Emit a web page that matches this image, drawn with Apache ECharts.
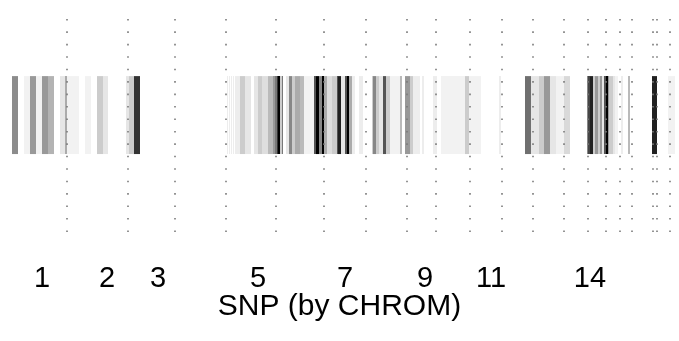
<!DOCTYPE html>
<html>
<head>
<meta charset="utf-8">
<script src="https://cdn.jsdelivr.net/npm/echarts@6/dist/echarts.min.js"></script>
<style>
  html, body { margin: 0; padding: 0; background: #fff; }
  #chart { width: 679px; height: 341px; }
</style>
</head>
<body>
<div id="chart"></div>
<script>
// SNP cells along the genome axis: [from, to, darkness 0..100]
var snpCells = [
  [12,18,45],[24,30,5],[30,36,40],[36,42,5],[42,48,40],[48,54,30],[60,65,10],[65,67,33],
  [67,79,5],[85,91,5],[97,103,20],[103,108,10],[126,129,10],[129,134,20],[134,140,80],
  [227,228,7],[229,230,7],[231,232,7],[233,234,7],[235,240,7],[240,245,20],[245,251,10],
  [254,258,10],[258,262,20],[262,268,13],[268,273,27],[273,275,40],[275,277,53],[277,278,80],
  [278,280,100],[280,282,20],[282,283,53],[286,289,10],[289,292,47],[292,295,20],[295,300,33],
  [300,304,27],[304,314,5],[314,316,67],[316,319,100],[319,322,47],[322,324,100],[324,327,33],
  [327,332,13],[332,337,20],[337,338,67],[338,341,87],[341,345,10],[345,347,67],[347,349,100],
  [349,352,33],[352,355,7],[359,363,7],[372,373,20],[373,376,47],[376,379,20],[379,383,10],
  [383,386,67],[386,390,20],[390,400,5],[400,402,27],[405,410,40],[410,413,20],[413,420,7],
  [422,424,7],[433,437,7],[441,465,5],[465,469,20],[469,481,5],[499,501,7],
  [525,531,56],[531,539,10],[539,544,20],[544,550,40],[550,556,10],[556,564,5],[564,570,15],
  [587,588,47],[588,590,73],[590,593,87],[593,595,20],[595,598,40],[598,600,20],[600,602,40],
  [602,604,10],[604,606,67],[606,608,100],[608,609,40],[609,613,20],[613,615,10],[615,618,5],
  [621,623,7],[628,630,27],[652,657,87],[668,675,5]
];

// chromosome boundaries
var chromBreaks = [67,128,175,226,275.5,324,365.5,407,436,469.5,501.5,532.5,563.5,587.5,606,620,631.5,652.5,656.5,669.5];

// chromosome tick labels
var chromNames = ['1','2','3','5','7','9','11','14'];
var chromLabelPos = [42,107,158,258,345,425,491,590];

var chart = echarts.init(document.getElementById('chart'));

function gray(d){
  var g = Math.round(255*(1-d/100));
  return 'rgb('+g+','+g+','+g+')';
}

var stripLo = 0.348, stripHi = 0.696;

chart.setOption({
  animation: false,
  title: {
    text: 'SNP (by CHROM)',
    left: 'center',
    top: 287,
    textStyle: { fontFamily: 'Liberation Sans', fontSize: 30, fontWeight: 'normal', color: '#000' }
  },
  grid: { left: 0, right: 0, top: 8, bottom: 109 },
  xAxis: {
    type: 'value',
    min: 0,
    max: 679,
    axisLine: { show: false },
    axisTick: { show: false },
    splitLine: { show: false },
    axisLabel: {
      customValues: chromLabelPos,
      margin: 32,
      fontFamily: 'Liberation Sans',
      fontSize: 29,
      color: '#000',
      formatter: function(v){
        var i = chromLabelPos.indexOf(v);
        return i >= 0 ? chromNames[i] : '';
      }
    }
  },
  yAxis: { type: 'value', min: 0, max: 1, show: false },
  series: [{
    type: 'custom',
    data: snpCells,
    encode: { x: [0, 1] },
    renderItem: function(params, api){
      var p0 = api.coord([api.value(0), stripHi]);
      var p1 = api.coord([api.value(1), stripLo]);
      return {
        type: 'rect',
        shape: { x: p0[0], y: p0[1], width: p1[0]-p0[0], height: p1[1]-p0[1] },
        style: { fill: gray(api.value(2)) }
      };
    },
    markLine: {
      silent: true,
      symbol: 'none',
      label: { show: false },
      lineStyle: { color: '#7a7a7a', width: 1.6, type: [1.6, 10.84], opacity: 1 },
      data: chromBreaks.map(function(x){ return { xAxis: x }; })
    }
  }]
});
</script>
</body>
</html>
